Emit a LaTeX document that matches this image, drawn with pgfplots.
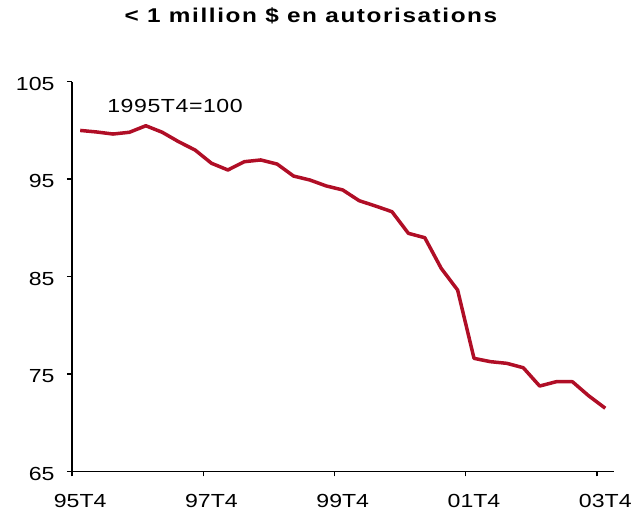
\documentclass[border=0pt]{standalone}
\usepackage{fontspec}
\setmainfont{Liberation Sans}[FakeStretch=1.22]
\newfontfamily\titlefont{Liberation Sans Bold}[FakeStretch=1.22,LetterSpace=8]
\newfontfamily\notefont{Liberation Sans}[FakeStretch=1.22,LetterSpace=3]
\usepackage{pgfplots}
\pgfplotsset{compat=1.18}
\definecolor{linered}{RGB}{176,14,38}
\begin{document}
\begin{tikzpicture}
\begin{axis}[
  at={(0,0)}, anchor=south west,
  scale only axis,
  width=541.5bp, height=389.8bp,
  xmin=0, xmax=33,
  ymin=65, ymax=105,
  axis lines=left,
  axis line style={line width=1.3bp, -},
  xtick={0,8,16,24,32},
  xticklabels={95T4,97T4,99T4,01T4,03T4},
  ytick={65,75,85,95,105},
  tick align=outside,
  major tick length=5bp,
  tick style={line width=1.3bp, black},
  /pgf/number format/assume math mode=true,
  ticklabel style={font=\fontsize{19}{22}\selectfont},
  xticklabel style={xshift=8.2bp, yshift=-14bp},
  yticklabel style={xshift=-9bp, yshift=-2bp},
  clip=false,
  title={\titlefont\fontsize{20}{24}\selectfont < 1 million \$ en autorisations},
  title style={at={(238.9bp,443bp)}, anchor=base, inner sep=0pt},
]
\addplot[linered, line width=3.5bp, line join=round] coordinates {
(0.5,100.00) (1.5,99.84) (2.5,99.63) (3.5,99.81) (4.5,100.48) (5.5,99.81)
(6.5,98.84) (7.5,97.99) (8.5,96.63) (9.5,95.94) (10.5,96.79) (11.5,96.97)
(12.5,96.55) (13.5,95.32) (14.5,94.91) (15.5,94.30) (16.5,93.89) (17.5,92.79)
(18.5,92.24) (19.5,91.66) (20.5,89.44) (21.5,88.99) (22.5,85.85) (23.5,83.62)
(24.5,76.61) (25.5,76.27) (26.5,76.10) (27.5,75.65) (28.5,73.77) (29.5,74.21)
(30.5,74.21) (31.5,72.75) (32.5,71.49)
};
\node[anchor=west, inner sep=0pt, font=\notefont\fontsize{19}{22}\selectfont] at (axis cs:2.14,102.5) {1995T4=100};
\end{axis}
\pgfresetboundingbox
\path (-72bp,-42.5bp) rectangle (570bp,471.5bp);
\end{tikzpicture}
\end{document}
